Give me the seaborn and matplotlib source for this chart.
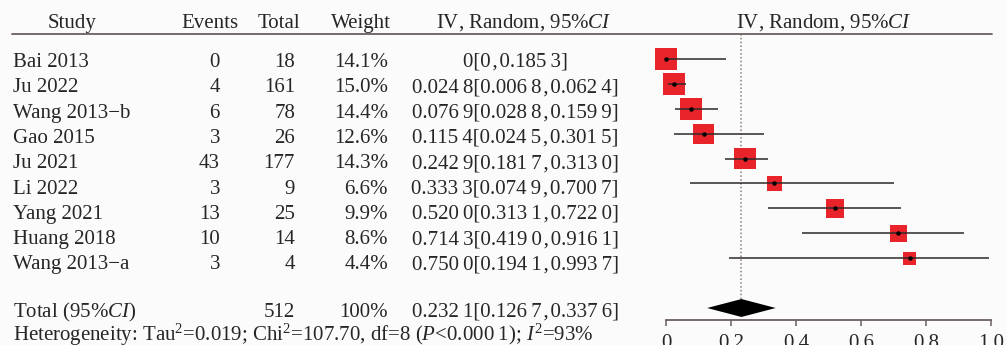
import numpy as np
import pandas as pd
import matplotlib
matplotlib.use("Agg")
import matplotlib.pyplot as plt
import seaborn as sns
from matplotlib.lines import Line2D

# ---------------- data ----------------
studies = ["Bai 2013", "Ju 2022", "Wang 2013\u2212b", "Gao 2015", "Ju 2021",
           "Li 2022", "Yang 2021", "Huang 2018", "Wang 2013\u2212a"]
events = [0, 4, 6, 3, 43, 3, 13, 10, 3]
totals = [18, 161, 78, 26, 177, 9, 25, 14, 4]
weights = [14.1, 15.0, 14.4, 12.6, 14.3, 6.6, 9.9, 8.6, 4.4]
est = [0.0, 0.0248, 0.0769, 0.1154, 0.2429, 0.3333, 0.5200, 0.7143, 0.7500]
ci_lo = [0.0, 0.0068, 0.0288, 0.0245, 0.1817, 0.0749, 0.3131, 0.4190, 0.1941]
ci_hi = [0.1853, 0.0624, 0.1599, 0.3015, 0.3130, 0.7007, 0.7220, 0.9161, 0.9937]
total_n = 512
total_weight = "100%"
pooled = 0.2321
pooled_lo = 0.1267
pooled_hi = 0.3376
heterogeneity = (r"Heterogeneity: Tau$^2$=0.019; Chi$^2$=107.70, df=8 "
                 r"($\mathit{P}$<0.000" + "\u2009" + r"1); $\mathit{I}^2$=93%")
xticks = [0, 0.2, 0.4, 0.6, 0.8, 1.0]
xtick_labels = ["0", "0.2", "0.4", "0.6", "0.8", "1.0"]

# ---------------- style ----------------
sns.set_style("white")
plt.rcParams["font.family"] = ["Liberation Serif", "DejaVu Serif"]
plt.rcParams["mathtext.fontset"] = "custom"
plt.rcParams["mathtext.rm"] = "Liberation Serif"
plt.rcParams["mathtext.it"] = "Liberation Serif:italic"
plt.rcParams["mathtext.bf"] = "Liberation Serif:bold"

RED = "#e8232a"
LINE = "#302a2a"
RULE = "#6a5f5f"
FS = 15

W, H = 1007, 345
fig = plt.figure(figsize=(W / 100, H / 100), dpi=100, facecolor="#fbfbfb")


def fx(px):
    return px / W


def fy(py):
    return 1 - py / H


def fmt(v):
    if v == 0:
        return "0"
    s = f"{v:.4f}"
    return s[:-1] + "\u2009" + s[-1]


def ci_text(e, l, h):
    return f"{fmt(e)}[{fmt(l)}\u200a,\u200a{fmt(h)}]"


# ---------------- forest axes ----------------
x0_px, x1_px = 666, 991
ppu = x1_px - x0_px
xlim = (-0.05, 1.02)
row0_px, row_step = 59, 24.9
top_px, bot_px = 34, 320
ylim = ((bot_px - row0_px) / row_step, (top_px - row0_px) / row_step)
left_px = x0_px + xlim[0] * ppu
ax = fig.add_axes([fx(left_px), fy(bot_px), (xlim[1] - xlim[0]) * ppu / W,
                   (bot_px - top_px) / H])
ax.set_facecolor("none")

df = pd.DataFrame({"study": studies, "est": est, "lo": ci_lo, "hi": ci_hi,
                   "weight": weights, "row": np.arange(len(studies))})

sns.scatterplot(data=df, x="est", y="row", size="weight", sizes=(92, 250),
                size_norm=(4.4, 15.0), marker="s", color=RED, linewidth=0,
                legend=False, ax=ax, zorder=2)
ax.hlines(df["row"], df["lo"], df["hi"], color=LINE, lw=1.1, zorder=3)
ax.plot(df["est"], df["row"], "o", ms=2.2, color="black", zorder=4)

total_row = len(studies) + 1
dh = 0.36
ax.fill([pooled_lo, pooled, pooled_hi, pooled],
        [total_row, total_row - dh, total_row, total_row + dh],
        color="black", lw=0, zorder=3)
ax.vlines(pooled, ylim[1], total_row - dh, color="#8a7c7c", lw=1.1,
          linestyles=(0, (1, 1.5)), zorder=1)

ax.set_xlim(*xlim)
ax.set_ylim(*ylim)
ax.set_xticks(xticks)
ax.set_xticklabels(xtick_labels)
ax.set_yticks([])
ax.set_xlabel("")
ax.set_ylabel("")
for s in ["top", "left", "right"]:
    ax.spines[s].set_visible(False)
ax.spines["bottom"].set_bounds(0, 1)
ax.spines["bottom"].set_color(RULE)
ax.spines["bottom"].set_linewidth(1.3)
ax.tick_params(axis="x", direction="out", length=4.5, width=1.1,
               color=RULE, labelsize=FS, pad=5.5, bottom=True)

# ---------------- header ----------------
hdr_base = 28
fig.text(fx(72), fy(hdr_base), "Study", ha="center", va="baseline", fontsize=FS)
fig.text(fx(210), fy(hdr_base), "Events", ha="center", va="baseline", fontsize=FS)
fig.text(fx(279), fy(hdr_base), "Total", ha="center", va="baseline", fontsize=FS)
fig.text(fx(361), fy(hdr_base), "Weight", ha="center", va="baseline", fontsize=FS)
fig.text(fx(524), fy(hdr_base), r"IV, Random, 95%$\mathit{CI}$", ha="center",
         va="baseline", fontsize=FS)
fig.text(fx(824), fy(hdr_base), r"IV, Random, 95%$\mathit{CI}$", ha="center",
         va="baseline", fontsize=FS)
fig.add_artist(Line2D([fx(12), fx(992)], [fy(34), fy(34)], color=RULE, lw=1.3))

# ---------------- table rows ----------------
text_base0, text_step = 67, 25.3
for i in range(len(studies)):
    yb = fy(text_base0 + i * text_step)
    fig.text(fx(13), yb, studies[i], ha="left", va="baseline", fontsize=FS)
    fig.text(fx(220), yb, str(events[i]), ha="right", va="baseline", fontsize=FS)
    fig.text(fx(295), yb, str(totals[i]), ha="right", va="baseline", fontsize=FS)
    fig.text(fx(388), yb, f"{weights[i]:.1f}%", ha="right", va="baseline", fontsize=FS)
    fig.text(fx(515), yb, ci_text(est[i], ci_lo[i], ci_hi[i]), ha="center",
             va="baseline", fontsize=FS)

yb = fy(317)
fig.text(fx(13), yb, r"Total (95%$\mathit{CI}$)", ha="left", va="baseline", fontsize=FS)
fig.text(fx(295), yb, str(total_n), ha="right", va="baseline", fontsize=FS)
fig.text(fx(388), yb, total_weight, ha="right", va="baseline", fontsize=FS)
fig.text(fx(515), yb, ci_text(pooled, pooled_lo, pooled_hi), ha="center",
         va="baseline", fontsize=FS)
fig.text(fx(13), fy(341), heterogeneity, ha="left", va="baseline", fontsize=FS)

fig.savefig("out.png", dpi=100, facecolor=fig.get_facecolor())
